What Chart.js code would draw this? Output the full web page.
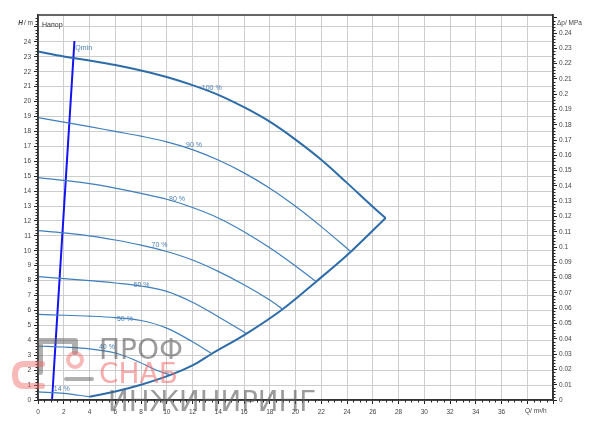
<!DOCTYPE html>
<html><head><meta charset="utf-8">
<script src="https://cdn.jsdelivr.net/npm/chart.js@4/dist/chart.umd.min.js"></script>
<style>html,body{margin:0;padding:0;background:#fff}canvas{display:block}</style>
</head><body>
<canvas id="c" width="600" height="431"></canvas>
<script>
// ---- data (Q in m³/h, H in m) ----
const curveNames = ['100 %','90 %','80 %','70 %','60 %','50 %','40 %','14 %'];
const Q_100 = [0,2,4,6,8,10,12,14,16,18,20,22,24,26,27];
const H_100 = [23.35,23.02,22.75,22.45,22.08,21.65,21.1,20.45,19.62,18.65,17.45,16.1,14.55,12.95,12.2];
const Q_90 = [0,2,4,6,8,10,12,14,16,18,20,22,24.3];
const H_90 = [18.92,18.62,18.32,18.0,17.68,17.3,16.78,16.08,15.22,14.19,12.98,11.62,9.94];
const Q_80 = [0,2,4,6,8,10,12,14,16,18,20,21.6];
const H_80 = [14.9,14.72,14.5,14.2,13.85,13.45,12.9,12.2,11.28,10.2,8.98,7.93];
const Q_70 = [0,2,4,6,8,10,12,14,16,18,19];
const H_70 = [11.35,11.2,11.0,10.72,10.38,9.95,9.38,8.62,7.72,6.7,6.08];
const Q_60 = [0,2,4,6,8,10,12,14,16.2];
const H_60 = [8.27,8.14,8.0,7.84,7.64,7.28,6.55,5.58,4.45];
const Q_50 = [0,2,4,6,8,10,12,13.5];
const H_50 = [5.74,5.68,5.62,5.52,5.33,4.82,3.9,3.1];
const Q_40 = [0,2,4,6,7.5,9.3,10.3];
const H_40 = [3.62,3.55,3.43,3.15,2.68,1.96,1.68];
const Q_14 = [0,2,4];
const H_14 = [0.55,0.44,0.22];
const Q_lim = [4,6,8,10.3,12,13.5,16.2,19,21.6,24.3,27];
const H_lim = [0.22,0.57,1.02,1.68,2.32,3.1,4.45,6.08,7.93,9.94,12.2];
const Q_min = [1.09,2.83];
const H_min = [0,24.06];
// label anchor positions (Q, H)
const labelQ = [13.49,12.12,10.8,9.44,8.04,6.75,5.35,1.85];
const labelH = [20.91,17.09,13.47,10.39,7.71,5.43,3.55,0.74];
// axes
const xMax = 40, yMax = 25.8, pMax = 0.2518;

const FONT = "'Liberation Sans', Arial, sans-serif";
const pts = (q,h) => q.map((v,i)=>({x:v,y:h[i]}));
const thick = '#2d6ca8', thin = '#3f7fbc';
function ds(q,h,color,w){return {data:pts(q,h),showLine:true,borderColor:color,borderWidth:w,pointRadius:0,tension:0.35,fill:false};}

const datasets = [
  ds(Q_90,H_90,thin,1.2), ds(Q_80,H_80,thin,1.2), ds(Q_70,H_70,thin,1.2),
  ds(Q_60,H_60,thin,1.2), ds(Q_50,H_50,thin,1.2), ds(Q_40,H_40,thin,1.2), ds(Q_14,H_14,thin,1.2),
  ds(Q_100,H_100,thick,2), ds(Q_lim,H_lim,thick,2),
  {data:pts(Q_min,H_min),showLine:true,borderColor:'#1414f0',borderWidth:2,pointRadius:0,fill:false}
];

const deco = {
  id:'deco',
  afterDraw(chart){
    const c = chart.ctx, a = chart.chartArea, sx = chart.scales.x, sy = chart.scales.y, sp = chart.scales.y2;
    c.save();
    // minor ticks
    c.strokeStyle = '#222'; c.lineWidth = 1;
    c.beginPath();
    for (let i=1;i*0.2<yMax;i++){ if(i%5===0) continue; const y=Math.round(sy.getPixelForValue(i*0.2))+0.5; c.moveTo(a.left-2.5,y); c.lineTo(a.left,y); }
    for (let i=1;i*0.002<pMax;i++){ if(i%5===0) continue; const y=Math.round(sp.getPixelForValue(i*0.002))+0.5; c.moveTo(a.right,y); c.lineTo(a.right+2.5,y); }
    for (let i=1;i*0.5<xMax;i++){ if(i%4===0) continue; const x=Math.round(sx.getPixelForValue(i*0.5))+0.5; c.moveTo(x,a.bottom); c.lineTo(x,a.bottom+2.5); }
    c.stroke();
    // frame
    c.strokeStyle = '#333'; c.lineWidth = 1.5;
    c.strokeRect(a.left, a.top, a.right-a.left, a.bottom-a.top);
    // curve labels
    c.font = '7px '+FONT; c.fillStyle = '#4a7fb6'; c.textAlign='center'; c.textBaseline='middle';
    curveNames.forEach((n,i)=>c.fillText(n, sx.getPixelForValue(labelQ[i]), sy.getPixelForValue(labelH[i])));
    c.textAlign='left';
    c.fillText('Qmin', sx.getPixelForValue(2.9), sy.getPixelForValue(23.59));
    // titles
    c.fillStyle='#333'; c.font='7px '+FONT;
    c.fillText('Напор', a.left+4, a.top+10);
    c.fillStyle='#444';
    c.textAlign='right';
    c.font='6.5px '+FONT; c.fillText('/ m', a.left-5, 23);
    const w2 = c.measureText('/ m').width;
    c.font='italic bold 6.5px '+FONT; c.fillText('H', a.left-5-w2-1, 23);
    c.textAlign='left'; c.font='6.5px '+FONT;
    c.fillText('Δp/ MPa', a.right+4, 23);
    c.fillText('Q/ m³/h', 525, a.bottom+11.5);
    // watermark
    c.lineCap='round'; c.lineJoin='round';
    c.strokeStyle='rgba(95,95,95,0.5)'; c.lineWidth=6;
    c.beginPath(); c.moveTo(40,372); c.lineTo(40,341); c.lineTo(75,341); c.lineTo(75,352); c.stroke();
    c.strokeStyle='rgba(240,100,100,0.45)'; c.lineWidth=6;
    c.beginPath(); c.moveTo(42,364); c.lineTo(24,364); c.quadraticCurveTo(15,364,15,375); c.quadraticCurveTo(15,386,24,386); c.lineTo(42,386); c.stroke();
    c.lineWidth=4; c.beginPath(); c.arc(75,360,7,0,Math.PI*2); c.stroke();
    c.strokeStyle='rgba(95,95,95,0.5)'; c.lineWidth=4;
    c.beginPath(); c.moveTo(66,379); c.lineTo(92,379); c.stroke();
    c.textAlign='left'; c.textBaseline='alphabetic';
    c.font='28px "DejaVu Sans", sans-serif';
    c.fillStyle='rgba(90,90,90,0.6)'; c.fillText('ПРОФ', 99, 359, 90);
    c.fillStyle='rgba(240,105,105,0.55)'; c.fillText('СНАБ', 99, 383, 82);
    c.fillStyle='rgba(90,90,90,0.6)'; c.fillText('ИНЖИНИРИНГ', 108, 411, 208);
    c.restore();
  }
};

const tickFont = {size:6.5, family:FONT};
new Chart(document.getElementById('c'), {
  type:'scatter',
  data:{datasets},
  options:{
    responsive:false, animation:false,
    layout:{padding:{top:15,left:0,right:0,bottom:0}},
    plugins:{legend:{display:false},tooltip:{enabled:false}},
    scales:{
      x:{type:'linear',position:'bottom',min:0,max:xMax,
        ticks:{stepSize:2,includeBounds:false,autoSkip:false,maxRotation:0,font:tickFont,color:'#444',padding:4,
          callback:v=>(v>=38?'':String(v))},
        grid:{color:'#cdcdcd',lineWidth:1,tickLength:4,tickColor:'#222'},
        border:{display:true,color:'#333',width:1.5},
        afterFit:s=>{s.height=31;}},
      y:{type:'linear',position:'left',min:0,max:yMax,
        ticks:{stepSize:1,includeBounds:false,autoSkip:false,font:tickFont,color:'#444',padding:3,
          callback:v=>(v>=25?'':String(v))},
        grid:{color:'#cdcdcd',lineWidth:1,tickLength:4,tickColor:'#222'},
        border:{display:true,color:'#333',width:1.5},
        afterFit:s=>{s.width=38;}},
      y2:{type:'linear',position:'right',min:0,max:pMax,
        ticks:{stepSize:0.01,includeBounds:false,autoSkip:false,font:tickFont,color:'#444',padding:2,
          callback:v=>(v>0.245?'':String(Number(v.toFixed(2))))},
        grid:{drawOnChartArea:false,tickLength:4,tickColor:'#222'},
        border:{display:true,color:'#333',width:1.5},
        afterFit:s=>{s.width=47;}}
    }
  },
  plugins:[deco]
});
</script>
</body></html>
